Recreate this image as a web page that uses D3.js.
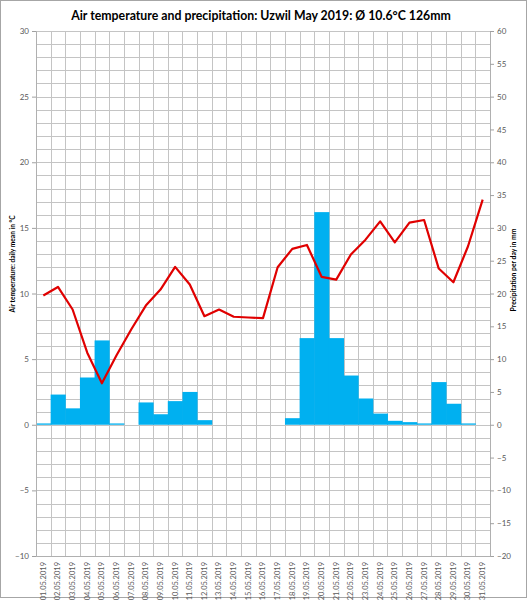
<!DOCTYPE html>
<html>
<head>
<meta charset="utf-8">
<script src="https://cdn.jsdelivr.net/npm/d3@7"></script>
<style>
  body { margin: 0; background: #fff; }
  svg { display: block; font-family: Lato, "Open Sans", sans-serif; }
</style>
</head>
<body>
<svg></svg>
<script>
var days = ["01.05.2019","02.05.2019","03.05.2019","04.05.2019","05.05.2019","06.05.2019","07.05.2019","08.05.2019",
  "09.05.2019","10.05.2019","11.05.2019","12.05.2019","13.05.2019","14.05.2019","15.05.2019","16.05.2019",
  "17.05.2019","18.05.2019","19.05.2019","20.05.2019","21.05.2019","22.05.2019","23.05.2019","24.05.2019",
  "25.05.2019","26.05.2019","27.05.2019","28.05.2019","29.05.2019","30.05.2019","31.05.2019"];

var temperature = [9.85, 10.5, 8.78, 5.49, 3.16, 5.3, 7.26, 9.08, 10.3, 12.03, 10.68, 8.27, 8.78, 8.23, 8.17, 8.12,
  12.0, 13.4, 13.7, 11.27, 11.06, 12.97, 14.1, 15.5, 13.9, 15.4, 15.6, 11.9, 10.86, 13.6, 17.15];

var precipitation = [0.2, 4.6, 2.5, 7.2, 12.85, 0.2, 0, 3.4, 1.6, 3.6, 5.0, 0.7, 0, 0, 0, 0,
  0, 1.0, 13.2, 32.4, 13.2, 7.5, 4.0, 1.7, 0.6, 0.4, 0.2, 6.5, 3.2, 0.2, 0];

var tempTicks = [-10, -5, 0, 5, 10, 15, 20, 25, 30];
var precTicks = [-20, -15, -10, -5, 0, 5, 10, 15, 20, 25, 30, 35, 40, 45, 50, 55, 60];

var width = 527, height = 600;
var margin = { top: 31, right: 37, bottom: 44, left: 36 },
    chartWidth = width - margin.left - margin.right,
    chartHeight = height - margin.top - margin.bottom;

var svg = d3.select("svg")
    .attr("width", width)
    .attr("height", height);

// outer border
svg.append("rect")
    .attr("x", 0.5).attr("y", 0.5)
    .attr("width", width - 1).attr("height", height - 3)
    .attr("fill", "#fff")
    .attr("stroke", "#a6a6a6");

svg.append("text")
    .attr("x", 261)
    .attr("y", 20)
    .attr("text-anchor", "middle")
    .style("font-size", "12.3px")
    .style("font-weight", "bold")
    .style("fill", "#000")
    .text("Air temperature and precipitation: Uzwil May 2019: \u00D8 10.6\u00B0C 126mm");

var chart = svg.append("g")
    .attr("transform", "translate(" + margin.left + "," + margin.top + ")");

var xScale = d3.scaleBand()
    .domain(days)
    .range([0, chartWidth])
    .padding(0);

var yTemp = d3.scaleLinear()
    .domain([-10, 30])
    .range([chartHeight, 0]);

var yPrec = d3.scaleLinear()
    .domain([-20, 60])
    .range([chartHeight, 0]);

// horizontal grid every 1 degree
chart.append("g")
  .selectAll("line")
  .data(d3.range(-10, 31))
  .join("line")
    .attr("x1", 0)
    .attr("x2", chartWidth)
    .attr("y1", function(d) { return Math.round(yTemp(d)) + 0.5; })
    .attr("y2", function(d) { return Math.round(yTemp(d)) + 0.5; })
    .attr("stroke", "#c4c4c4");

// vertical grid at each day boundary
chart.append("g")
  .selectAll("line")
  .data(days.slice(1))
  .join("line")
    .attr("x1", function(d) { return Math.round(xScale(d)) + 0.5; })
    .attr("x2", function(d) { return Math.round(xScale(d)) + 0.5; })
    .attr("y1", 0)
    .attr("y2", chartHeight)
    .attr("stroke", "#c4c4c4");

// precipitation bars
chart.append("g")
  .selectAll("rect")
  .data(precipitation)
  .join("rect")
    .attr("x", function(d, i) { return xScale(days[i]); })
    .attr("width", xScale.bandwidth() + 0.5)
    .attr("y", function(d) { return yPrec(d); })
    .attr("height", function(d) { return yPrec(0) - yPrec(d); })
    .attr("fill", "#00b0f0");

// temperature line
var lineGenerator = d3.line()
    .x(function(d, i) { return xScale(days[i]) + xScale.bandwidth() / 2; })
    .y(function(d) { return yTemp(d); });

chart.append("path")
    .datum(temperature)
    .attr("d", lineGenerator)
    .attr("fill", "none")
    .attr("stroke", "#e00000")
    .attr("stroke-width", 2.2)
    .attr("stroke-linejoin", "round");

// axes
var leftAxis = chart.append("g")
    .call(d3.axisLeft(yTemp).tickValues(tempTicks).tickSize(4).tickPadding(3));

var rightAxis = chart.append("g")
    .attr("transform", "translate(" + chartWidth + ",0)")
    .call(d3.axisRight(yPrec).tickValues(precTicks).tickSize(4).tickPadding(3));

var bottomAxis = chart.append("g")
    .attr("transform", "translate(0," + chartHeight + ")")
    .call(d3.axisBottom(xScale).tickSize(0).tickPadding(5));

[leftAxis, rightAxis, bottomAxis].forEach(function(ax) {
  ax.select(".domain").attr("stroke", "#b0b0b0");
  ax.selectAll(".tick line").attr("stroke", "#a0a0a0");
  ax.selectAll("text")
    .style("font-family", "Lato, 'Open Sans', sans-serif")
    .style("font-size", "8px")
    .attr("fill", "#595959");
});

bottomAxis.selectAll("text")
    .attr("transform", "rotate(-90)")
    .attr("text-anchor", "end")
    .attr("dx", 0)
    .attr("dy", "0.32em")
    .attr("x", -6)
    .attr("y", 0)
    .style("font-size", "7.5px");

// axis titles
svg.append("text")
    .attr("transform", "translate(15," + 264 + ") rotate(-90)")
    .attr("text-anchor", "middle")
    .style("font-size", "6.6px")
    .style("font-weight", "bold")
    .style("fill", "#000")
    .text("Air temperature: daily mean in \u00B0C");

svg.append("text")
    .attr("transform", "translate(516," + 270 + ") rotate(-90)")
    .attr("text-anchor", "middle")
    .style("font-size", "6.8px")
    .style("font-weight", "bold")
    .style("fill", "#000")
    .text("Precipitation per day in mm");
</script>
</body>
</html>
